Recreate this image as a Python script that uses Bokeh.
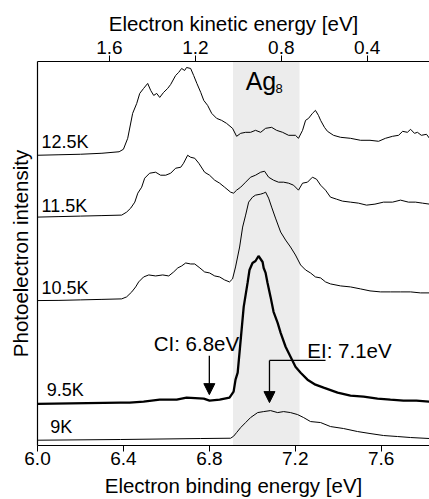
from bokeh.plotting import figure
from bokeh.models import (Range1d, LinearAxis, FixedTicker, BoxAnnotation, Arrow, NormalHead, Label,
                          PrintfTickFormatter)
from bokeh.embed import file_html
from bokeh.resources import INLINE

FONT = "Liberation Sans"

# ---------------- data (binding energy [eV], intensity [arb. u., offset]) ----------------
be_125 = [6.000, 6.100, 6.200, 6.300, 6.380, 6.400, 6.420, 6.443, 6.462, 6.476, 6.494, 6.513, 6.527,
          6.541, 6.555, 6.569, 6.587, 6.606, 6.620, 6.643, 6.657, 6.671, 6.685, 6.694, 6.713, 6.727,
          6.742, 6.760, 6.774, 6.792, 6.811, 6.834, 6.857, 6.880, 6.908, 6.927, 6.946, 6.969, 6.992,
          7.015, 7.039, 7.062, 7.090, 7.113, 7.141, 7.169, 7.201, 7.215, 7.234, 7.248, 7.262, 7.280,
          7.294, 7.308, 7.318, 7.336, 7.350, 7.378, 7.411, 7.457, 7.504, 7.548, 7.588, 7.620, 7.653,
          7.681, 7.700, 7.722, 7.737, 7.755, 7.769, 7.787, 7.811, 7.825]
i_125 = [291, 291.5, 292, 293, 294.5, 297, 308, 333, 343, 353, 358, 363, 356,
         351, 353, 349, 354, 358, 362, 371, 374, 378, 376, 379, 378, 371,
         363, 354, 346, 341, 333, 328, 326, 323, 318, 310, 313, 314, 314,
         316, 314, 318, 319, 316, 314, 311, 311, 308, 316, 326, 328, 333,
         336, 331, 326, 319, 315, 311, 309, 308, 306, 306, 305, 308, 310,
         311, 315, 314, 317, 313, 314, 311, 312, 308]

be_115 = [6.000, 6.100, 6.200, 6.300, 6.392, 6.415, 6.434, 6.453, 6.467, 6.485, 6.499, 6.522, 6.550,
          6.573, 6.597, 6.620, 6.643, 6.667, 6.680, 6.699, 6.713, 6.732, 6.751, 6.778, 6.801, 6.825,
          6.848, 6.871, 6.899, 6.913, 6.927, 6.946, 6.969, 6.992, 7.015, 7.039, 7.057, 7.076, 7.099,
          7.122, 7.146, 7.169, 7.192, 7.215, 7.234, 7.257, 7.280, 7.299, 7.318, 7.341, 7.364, 7.392,
          7.420, 7.457, 7.494, 7.532, 7.571, 7.611, 7.653, 7.690, 7.727, 7.760, 7.792, 7.825]
i_115 = [229, 229.5, 230, 230.5, 231, 234, 238, 244, 253, 259, 268, 273, 274,
         271, 271, 273, 278, 279, 283, 291, 289, 288, 283, 274, 271, 266,
         263, 259, 254, 253, 256, 259, 264, 269, 271, 274, 275, 269, 266,
         264, 264, 263, 261, 256, 263, 264, 269, 267, 261, 256, 249, 247,
         245, 244, 243, 241, 242, 244, 244, 246, 244, 244, 243, 242]

be_105 = [6.000, 6.100, 6.200, 6.300, 6.392, 6.415, 6.439, 6.457, 6.471, 6.494, 6.518, 6.550, 6.583,
          6.611, 6.634, 6.653, 6.671, 6.690, 6.713, 6.732, 6.756, 6.778, 6.801, 6.825, 6.848, 6.871,
          6.894, 6.908, 6.922, 6.941, 6.955, 6.969, 6.983, 7.001, 7.015, 7.039, 7.053, 7.062, 7.076,
          7.090, 7.108, 7.132, 7.155, 7.178, 7.201, 7.225, 7.248, 7.271, 7.294, 7.318, 7.341, 7.364,
          7.411, 7.457, 7.504, 7.548, 7.597, 7.643, 7.690, 7.737, 7.783, 7.825]
i_105 = [145.3, 145.5, 146, 146.5, 147, 149, 154, 159, 164, 169, 171, 170, 171,
         170, 174, 178, 180, 183, 182, 182, 178, 174, 173, 170, 169, 166,
         164, 167, 179, 199, 219, 231, 244, 249, 251, 252, 253, 254, 248,
         239, 228, 214, 206, 199, 191, 181, 176, 173, 169, 168, 164, 162,
         160, 159, 157, 155, 154, 154, 154, 154, 153, 153]

be_95 = [6.000, 6.387, 6.429, 6.494, 6.569, 6.648, 6.694, 6.774, 6.801, 6.848, 6.894, 6.913, 6.922,
         6.932, 6.946, 6.960, 6.978, 6.987, 7.001, 7.015, 7.029, 7.048, 7.053, 7.062, 7.071, 7.085,
         7.099, 7.118, 7.132, 7.155, 7.178, 7.201, 7.225, 7.257, 7.294, 7.332, 7.397, 7.457, 7.518,
         7.583, 7.643, 7.704, 7.764, 7.825]
i_95 = [41.7, 43, 43, 44, 46, 46, 48, 47, 45, 46, 48, 54, 66,
        73, 106, 139, 163, 176, 183, 185, 190, 184, 178, 173, 163, 149,
        134, 123, 113, 99, 89, 79, 73, 66, 61, 58, 53, 50, 49,
        47, 46, 45, 45, 44]

be_90 = [6.000, 6.387, 6.760, 6.899, 6.913, 6.927, 6.946, 6.969, 6.992, 7.025, 7.053, 7.085, 7.118,
         7.146, 7.178, 7.211, 7.239, 7.271, 7.318, 7.364, 7.425, 7.490, 7.548, 7.611, 7.676, 7.737,
         7.825]
i_90 = [5.3, 6, 7, 7.3, 9.3, 13, 18, 23, 28, 33, 34, 35, 33,
        34, 33, 31, 28, 24, 23, 19, 17, 14, 12, 10, 9, 8,
        7]

trace_labels = ["12.5K", "11.5K", "10.5K", "9.5K", "9K"]
label_x = [6.019, 6.019, 6.019, 6.043, 6.059]
label_y = [304, 240, 158, 56, 19]

be_ticks = [6.0, 6.4, 6.8, 7.2, 7.6]
ke_ticks = [1.6, 1.2, 0.8, 0.4]
photon_energy = 7.935          # KE = hv - BE
x_lo, x_hi = 6.0, 7.825
y_lo, y_hi = 0, 385

ag8_band = (6.91, 7.22)
ci_energy, ci_arrow_top, ci_arrow_tip = 6.80, 90, 51
ei_energy, ei_bar_y, ei_bar_right, ei_arrow_tip = 7.08, 85.3, 7.341, 43

# ---------------- figure ----------------
p = figure(width=429, height=499, output_backend="svg", toolbar_location=None,
           x_range=Range1d(x_lo, x_hi), y_range=Range1d(y_lo, y_hi),
           x_axis_location=None, y_axis_location=None,
           min_border_left=37, min_border_right=0, min_border_top=61, min_border_bottom=53)
p.outline_line_color = None
p.xgrid.visible = False
p.ygrid.visible = False
p.background_fill_color = "white"

p.extra_x_ranges = {"ke": Range1d(start=photon_energy - x_lo, end=photon_energy - x_hi)}
top = LinearAxis(x_range_name="ke", ticker=FixedTicker(ticks=ke_ticks),
                 axis_label="Electron kinetic energy [eV]")
bottom = LinearAxis(ticker=FixedTicker(ticks=be_ticks), formatter=PrintfTickFormatter(format="%.1f"),
                    axis_label="Electron binding energy [eV]")
left = LinearAxis(ticker=FixedTicker(ticks=[]), axis_label="Photoelectron intensity")

for ax in [bottom, top]:
    ax.axis_line_color = "black"
    ax.axis_line_width = 1.2
    ax.major_tick_line_color = "black"
    ax.major_tick_out = 6
    ax.major_tick_in = 0
    ax.minor_tick_line_color = None
    ax.major_label_text_font = FONT
    ax.major_label_text_font_size = "19px"
    ax.major_label_text_color = "black"
    ax.major_label_standoff = 2
    ax.axis_label_text_font = FONT
    ax.axis_label_text_font_size = "20.5px"
    ax.axis_label_text_font_style = "normal"
    ax.axis_label_text_color = "black"
    ax.axis_label_standoff = 3

bottom.major_label_standoff = 0
bottom.axis_label_standoff = 6

left.major_tick_line_color = None
left.minor_tick_line_color = None
left.axis_line_color = "black"
left.axis_line_width = 1.2
left.axis_label_text_font = FONT
left.axis_label_text_font_size = "20.5px"
left.axis_label_text_font_style = "normal"
left.axis_label_text_color = "black"
left.axis_label_standoff = 6
left.major_label_text_font_size = "0px"

p.add_layout(top, "above")
p.add_layout(bottom, "below")
p.add_layout(left, "left")

p.add_layout(BoxAnnotation(left=ag8_band[0], right=ag8_band[1], fill_color="#ececec",
                           fill_alpha=1, line_color=None, level="underlay"))

for be, it, w in [(be_125, i_125, 1), (be_115, i_115, 1), (be_105, i_105, 1),
                  (be_95, i_95, 2.3), (be_90, i_90, 1)]:
    p.line(be, it, line_color="black", line_width=w)

for t, x, y in zip(trace_labels, label_x, label_y):
    p.add_layout(Label(x=x, y=y, text=t, text_font=FONT, text_font_size="18px",
                       text_baseline="alphabetic", text_color="black"))

p.add_layout(Label(x=6.969, y=365, text="Ag", text_font=FONT, text_font_size="25px",
                   text_baseline="alphabetic", text_color="black"))
p.add_layout(Label(x=7.108, y=358, text="8", text_font=FONT, text_font_size="13px",
                   text_baseline="alphabetic", text_color="black"))

p.add_layout(Label(x=6.541, y=102, text="CI: 6.8eV", text_font=FONT, text_font_size="20.5px",
                   text_baseline="alphabetic", text_color="black"))
p.add_layout(Label(x=7.256, y=95, text="EI: 7.1eV", text_font=FONT, text_font_size="20.5px",
                   text_baseline="alphabetic", text_color="black"))

p.add_layout(Arrow(end=NormalHead(size=11, fill_color="black", line_color="black"),
                   x_start=ci_energy, y_start=ci_arrow_top, x_end=ci_energy, y_end=ci_arrow_tip,
                   line_color="black", line_width=1.3))
p.line([ei_bar_right, ei_energy], [ei_bar_y, ei_bar_y], line_color="black", line_width=1.3)
p.add_layout(Arrow(end=NormalHead(size=11, fill_color="black", line_color="black"),
                   x_start=ei_energy, y_start=ei_bar_y, x_end=ei_energy, y_end=ei_arrow_tip,
                   line_color="black", line_width=1.3))

open("out.html", "w").write(file_html(p, INLINE))
